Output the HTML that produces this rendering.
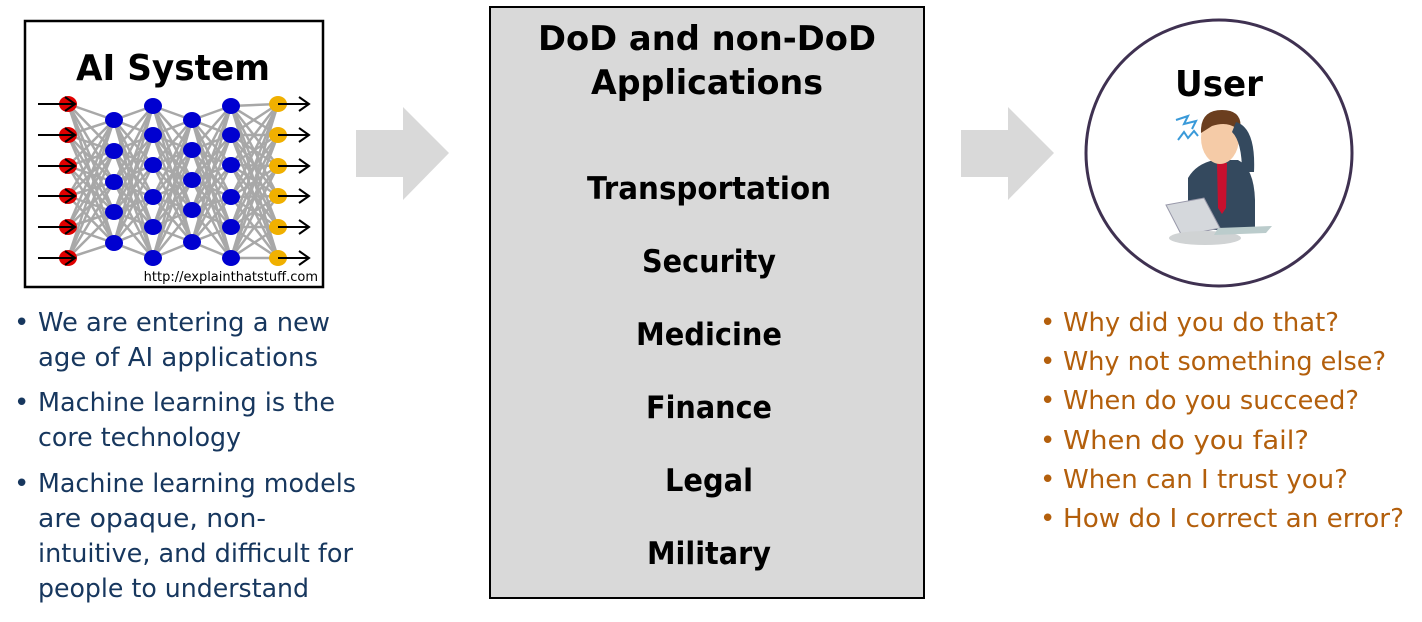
<!DOCTYPE html>
<html><head><meta charset="utf-8"><style>
html,body{margin:0;padding:0;background:#fff;width:1422px;height:622px;overflow:hidden}
svg text{font-family:"DejaVu Sans","Liberation Sans",sans-serif}
</style></head><body>
<svg width="1422" height="622" viewBox="0 0 1422 622" xmlns="http://www.w3.org/2000/svg">
<rect x="25" y="21" width="298" height="266" fill="#fff" stroke="#000" stroke-width="2.5"/>
<text x="173" y="80" text-anchor="middle" font-weight="bold" font-size="36" textLength="194" lengthAdjust="spacingAndGlyphs">AI System</text>
<g id="net" stroke="#a8a8a8" stroke-width="2.5"></g>
<g id="nodes"></g>
<text x="318" y="281" text-anchor="end" font-size="13" font-family="Liberation Sans">http://explainthatstuff.com</text>

<polygon points="356,130 403,130 403,107 449,153 403,200 403,177 356,177" fill="#d9d9d9"/>
<polygon points="961,130 1008,130 1008,107 1054,153 1008,200 1008,177 961,177" fill="#d9d9d9"/>

<rect x="490" y="7" width="434" height="591" fill="#d9d9d9" stroke="#000" stroke-width="2"/>
<g font-weight="bold" text-anchor="middle" fill="#000">
<text x="707" y="50" font-size="34" textLength="338" lengthAdjust="spacingAndGlyphs">DoD and non-DoD</text>
<text x="707" y="94" font-size="34" textLength="232" lengthAdjust="spacingAndGlyphs">Applications</text>
<text x="709" y="199" font-size="31" textLength="244" lengthAdjust="spacingAndGlyphs">Transportation</text>
<text x="709" y="272" font-size="31" textLength="134" lengthAdjust="spacingAndGlyphs">Security</text>
<text x="709" y="345" font-size="31" textLength="146" lengthAdjust="spacingAndGlyphs">Medicine</text>
<text x="709" y="418" font-size="31" textLength="126" lengthAdjust="spacingAndGlyphs">Finance</text>
<text x="709" y="491" font-size="31" textLength="88" lengthAdjust="spacingAndGlyphs">Legal</text>
<text x="709" y="564" font-size="31" textLength="124" lengthAdjust="spacingAndGlyphs">Military</text>
</g>

<circle cx="1219" cy="153" r="133" fill="#fff" stroke="#3f3151" stroke-width="3"/>
<text x="1219" y="96" text-anchor="middle" font-weight="bold" font-size="36" textLength="88" lengthAdjust="spacingAndGlyphs">User</text>
<polyline points="1176,120 1188,116 1184,124 1196,121 1192,129" fill="none" stroke="#3a9ad9" stroke-width="2"/>
<polyline points="1178,140 1184,132 1188,138 1194,131 1198,136" fill="none" stroke="#3a9ad9" stroke-width="2"/>
<path d="M1188,178 Q1196,164 1214,160 L1238,160 Q1254,168 1255,200 L1255,230 L1188,230 Z" fill="#34495e"/>
<polygon points="1217,163 1227,163 1226,208 1222,214 1218,208" fill="#c8102e"/>
<ellipse cx="1220" cy="138" rx="19" ry="26" fill="#f5cba7"/>
<path d="M1201,133 Q1200,110 1222,110 Q1244,110 1240,132 Q1230,120 1212,126 Z" fill="#6b3e1f"/>
<path d="M1236,122 Q1256,128 1254,172 L1242,172 Q1242,142 1232,132 Z" fill="#34495e"/>
<polygon points="1166,205 1204,198 1220,228 1182,236" fill="#d5d8dc" stroke="#99a" stroke-width="1"/>
<ellipse cx="1205" cy="238" rx="36" ry="7" fill="#d0d3d4"/>
<polygon points="1218,228 1272,226 1266,233 1214,235" fill="#bcc"/>

<g font-size="26" fill="#17375e">
<text x="14" y="331">•</text><text x="38" y="331" textLength="292" lengthAdjust="spacingAndGlyphs">We are entering a new</text>
<text x="38" y="366" textLength="280" lengthAdjust="spacingAndGlyphs">age of AI applications</text>
<text x="14" y="411">•</text><text x="38" y="411" textLength="297" lengthAdjust="spacingAndGlyphs">Machine learning is the</text>
<text x="38" y="446" textLength="203" lengthAdjust="spacingAndGlyphs">core technology</text>
<text x="14" y="492">•</text><text x="38" y="492" textLength="318" lengthAdjust="spacingAndGlyphs">Machine learning models</text>
<text x="38" y="527" textLength="228" lengthAdjust="spacingAndGlyphs">are opaque, non-</text>
<text x="38" y="562" textLength="315" lengthAdjust="spacingAndGlyphs">intuitive, and difficult for</text>
<text x="38" y="597" textLength="271" lengthAdjust="spacingAndGlyphs">people to understand</text>
</g>
<g font-size="26" fill="#b35f0c">
<text x="1040" y="331">•</text><text x="1063" y="331" textLength="276" lengthAdjust="spacingAndGlyphs">Why did you do that?</text>
<text x="1040" y="370">•</text><text x="1063" y="370" textLength="323" lengthAdjust="spacingAndGlyphs">Why not something else?</text>
<text x="1040" y="409">•</text><text x="1063" y="409" textLength="296" lengthAdjust="spacingAndGlyphs">When do you succeed?</text>
<text x="1040" y="449">•</text><text x="1063" y="449" textLength="246" lengthAdjust="spacingAndGlyphs">When do you fail?</text>
<text x="1040" y="488">•</text><text x="1063" y="488" textLength="285" lengthAdjust="spacingAndGlyphs">When can I trust you?</text>
<text x="1040" y="527">•</text><text x="1063" y="527" textLength="341" lengthAdjust="spacingAndGlyphs">How do I correct an error?</text>
</g>
</svg>
<script>
var L=[[68,[104,135,166,196,227,258],'#e00000'],[114,[120,151,182,212,243],'#0000d0'],[153,[106,135,165,197,227,258],'#0000d0'],[192,[120,150,180,210,242],'#0000d0'],[231,[106,135,165,197,227,258],'#0000d0'],[278,[104,135,166,196,227,258],'#f0b000']];
var ns='http://www.w3.org/2000/svg',net=document.getElementById('net'),nd=document.getElementById('nodes');
function el(p,t,a){var e=document.createElementNS(ns,t);for(var k in a)e.setAttribute(k,a[k]);p.appendChild(e);return e;}
for(var i=0;i<L.length-1;i++)for(var a=0;a<L[i][1].length;a++)for(var b=0;b<L[i+1][1].length;b++)el(net,'line',{x1:L[i][0],y1:L[i][1][a],x2:L[i+1][0],y2:L[i+1][1][b]});
L.forEach(function(l){l[1].forEach(function(y){el(nd,'ellipse',{cx:l[0],cy:y,rx:9,ry:8,fill:l[2]});});});
[104,135,166,196,227,258].forEach(function(y){
el(nd,'line',{x1:38,y1:y,x2:74,y2:y,stroke:'#000','stroke-width':2});
el(nd,'polyline',{points:'65,'+(y-7)+' 75,'+y+' 65,'+(y+7),fill:'none',stroke:'#000','stroke-width':2});
el(nd,'line',{x1:278,y1:y,x2:308,y2:y,stroke:'#000','stroke-width':2});
el(nd,'polyline',{points:'299,'+(y-7)+' 309,'+y+' 299,'+(y+7),fill:'none',stroke:'#000','stroke-width':2});
});
</script>
</body></html>
